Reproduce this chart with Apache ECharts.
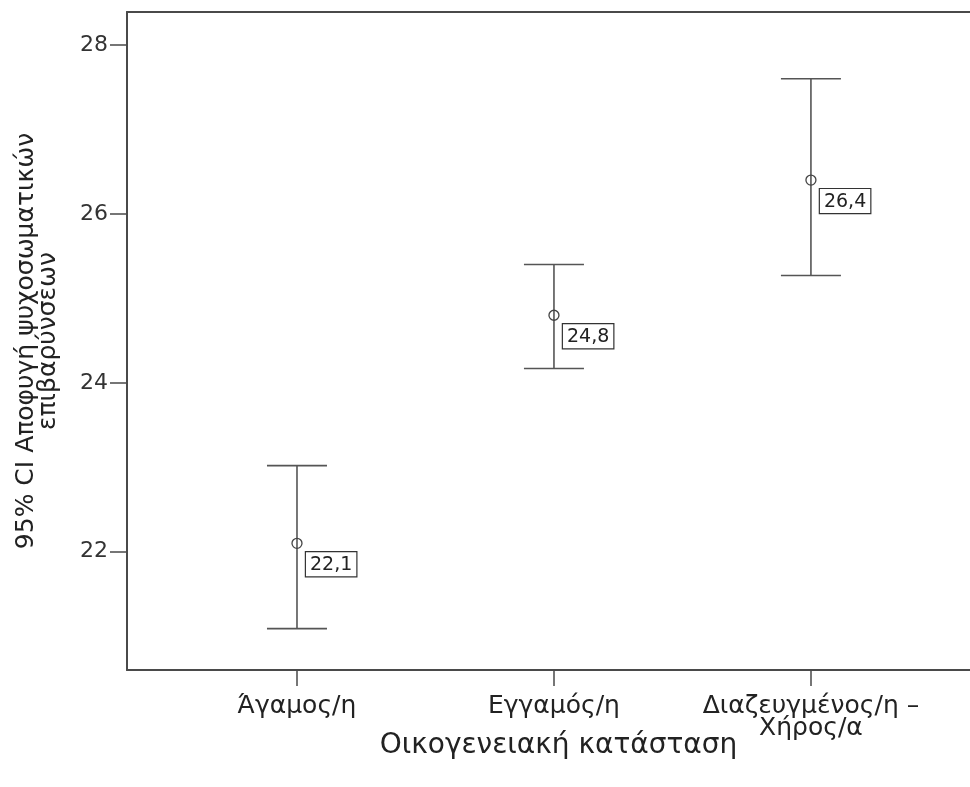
<!DOCTYPE html>
<html>
<head>
<meta charset="utf-8">
<script src="https://cdn.jsdelivr.net/npm/echarts@6/dist/echarts.min.js"></script>
<style>
  html, body { margin: 0; padding: 0; background: #fff; }
  #chart { width: 970px; height: 787px; }
</style>
</head>
<body>
<div id="chart"></div>
<script>
// Marital status groups and the 95% CI of the mean score
const categories = ['Άγαμος/η', 'Εγγαμός/η', 'Διαζευγμένος/η –\nΧήρος/α'];
const means = [22.1, 24.8, 26.4];
const lower = [21.09, 24.17, 25.27];
const upper = [23.02, 25.40, 27.60];
const yTicks = [22, 24, 26, 28];

const FONT = 'DejaVu Sans';
const AXIS = '#4a4a4a';

const points = categories.map((c, i) => [i + 1, means[i], lower[i], upper[i]]);
const xPositions = categories.map((c, i) => i + 1);

const chart = echarts.init(document.getElementById('chart'));

function renderBar(params, api) {
  const x = api.value(0);
  const pm = api.coord([x, api.value(1)]);
  const pl = api.coord([x, api.value(2)]);
  const ph = api.coord([x, api.value(3)]);
  const cap = 30;
  const lineStyle = { stroke: '#555', lineWidth: 1.6 };
  const label = api.value(1).toFixed(1).replace('.', ',');
  return {
    type: 'group',
    children: [
      { type: 'line', shape: { x1: pl[0], y1: pl[1], x2: ph[0], y2: ph[1] }, style: lineStyle },
      { type: 'line', shape: { x1: pl[0] - cap, y1: pl[1], x2: pl[0] + cap, y2: pl[1] }, style: lineStyle },
      { type: 'line', shape: { x1: ph[0] - cap, y1: ph[1], x2: ph[0] + cap, y2: ph[1] }, style: lineStyle },
      { type: 'circle', shape: { cx: pm[0], cy: pm[1], r: 5 }, style: { fill: 'none', stroke: '#444', lineWidth: 1.3 } },
      {
        type: 'text',
        x: pm[0] + 9,
        y: pm[1] + 9,
        style: {
          text: label,
          fill: '#222',
          font: '19px "' + FONT + '"',
          backgroundColor: '#fff',
          borderColor: '#333',
          borderWidth: 1.2,
          padding: [3, 4, 2, 4]
        }
      }
    ]
  };
}

chart.setOption({
  animation: false,
  grid: { left: 127, right: 0, top: 12, bottom: 117 },
  xAxis: [
    {
      type: 'value',
      min: 0.3385,
      max: 3.619,
      name: 'Οικογενειακή κατάσταση',
      nameLocation: 'middle',
      nameGap: 62,
      nameMoveOverlap: false,
      nameTextStyle: { fontFamily: FONT, fontSize: 28, color: '#222', padding: [0, 0, 0, 20] },
      axisLine: { show: true, lineStyle: { color: AXIS, width: 2 } },
      axisTick: { show: true, customValues: xPositions, length: 16, lineStyle: { color: AXIS, width: 1.5 } },
      axisLabel: {
        customValues: xPositions,
        formatter: v => categories[Math.round(v) - 1] || '',
        fontFamily: FONT, fontSize: 25, color: '#222', margin: 25, lineHeight: 22
      },
      splitLine: { show: false }
    },
    {
      type: 'value',
      position: 'top',
      min: 0.3385,
      max: 3.619,
      axisLine: { show: true, lineStyle: { color: AXIS, width: 2 } },
      axisTick: { show: false },
      axisLabel: { show: false },
      splitLine: { show: false }
    }
  ],
  yAxis: {
    type: 'value',
    min: 20.6,
    max: 28.39,
    name: '95% CI Αποφυγή ψυχοσωματικών\nεπιβαρύνσεων',
    nameLocation: 'middle',
    nameGap: 68,
    nameMoveOverlap: false,
    nameRotate: 90,
    nameTextStyle: { fontFamily: FONT, fontSize: 25, color: '#222', lineHeight: 22 },
    axisLine: { show: true, lineStyle: { color: AXIS, width: 2 } },
    axisTick: { show: true, customValues: yTicks, length: 17, lineStyle: { color: AXIS, width: 1.5 } },
    axisLabel: { customValues: yTicks, fontFamily: FONT, fontSize: 22, color: '#333', margin: 19 },
    splitLine: { show: false }
  },
  series: [{
    type: 'custom',
    renderItem: renderBar,
    encode: { x: 0, y: [1, 2, 3] },
    data: points
  }]
});
</script>
</body>
</html>
